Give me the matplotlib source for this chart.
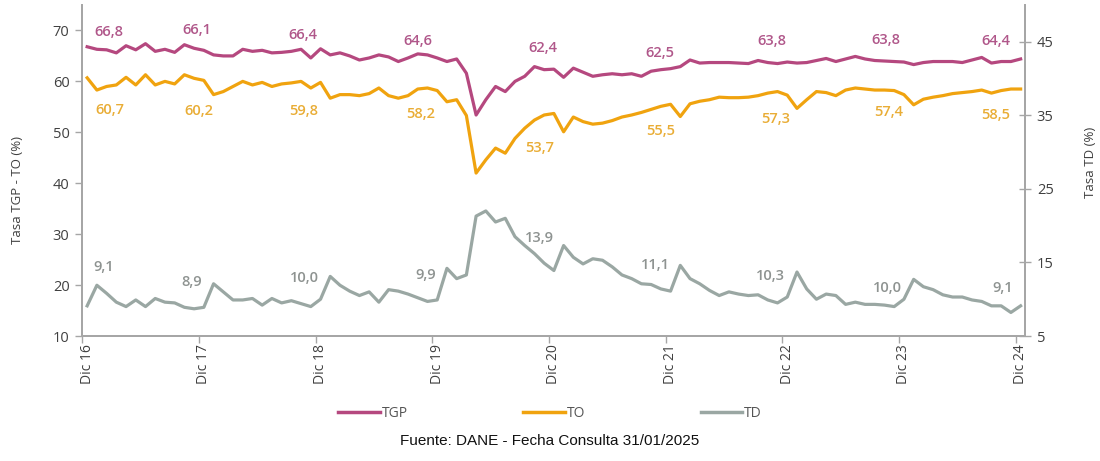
import matplotlib
matplotlib.use('Agg')
import matplotlib.pyplot as plt
from matplotlib.lines import Line2D

# monthly series Dic 16 .. Dic 24 (97 months)
tgp = [66.8, 66.3, 66.2, 65.6, 67.0, 66.2, 67.4, 65.9, 66.3, 65.7, 67.2, 66.5,
       66.1, 65.2, 65.0, 65.0, 66.3, 65.9, 66.1, 65.6, 65.7, 65.9, 66.3, 64.6,
       66.4, 65.2, 65.6, 65.0, 64.2, 64.6, 65.2, 64.8, 63.9, 64.6, 65.4, 65.2,
       64.6, 63.9, 64.4, 61.6, 53.4, 56.4, 59.0, 58.0, 60.0, 61.0, 62.9, 62.3,
       62.4, 60.8, 62.6, 61.8, 61.0, 61.3, 61.5, 61.3, 61.5, 61.0, 62.0, 62.3,
       62.5, 62.9, 64.2, 63.6, 63.7, 63.7, 63.7, 63.6, 63.5, 64.1, 63.7, 63.5,
       63.8, 63.6, 63.7, 64.1, 64.5, 63.9, 64.4, 64.9, 64.4, 64.1, 64.0, 63.9,
       63.8, 63.3, 63.7, 63.9, 63.9, 63.9, 63.7, 64.2, 64.7, 63.6, 63.9, 63.9,
       64.4]
to = [60.7, 58.3, 59.0, 59.3, 60.8, 59.3, 61.3, 59.3, 60.0, 59.5, 61.3, 60.6,
      60.2, 57.4, 58.0, 59.0, 60.0, 59.3, 59.8, 59.0, 59.5, 59.7, 60.0, 58.7,
      59.8, 56.7, 57.4, 57.4, 57.2, 57.6, 58.7, 57.2, 56.7, 57.2, 58.5, 58.7,
      58.2, 56.0, 56.4, 53.3, 42.0, 44.6, 46.9, 45.9, 48.8, 50.8, 52.4, 53.4,
      53.7, 50.1, 53.0, 52.1, 51.6, 51.8, 52.3, 53.0, 53.4, 53.9, 54.5, 55.1,
      55.5, 53.1, 55.6, 56.1, 56.4, 56.9, 56.8, 56.8, 56.9, 57.2, 57.7, 58.0,
      57.3, 54.7, 56.4, 58.0, 57.8, 57.2, 58.3, 58.7, 58.5, 58.3, 58.3, 58.2,
      57.4, 55.4, 56.5, 56.9, 57.2, 57.6, 57.8, 58.0, 58.3, 57.7, 58.2, 58.5,
      58.5]
td = [9.1, 11.9, 10.8, 9.6, 9.0, 9.9, 9.0, 10.1, 9.6, 9.5, 8.9, 8.7,
      8.9, 12.1, 11.0, 9.9, 9.9, 10.1, 9.2, 10.1, 9.5, 9.8, 9.4, 9.0,
      10.0, 13.1, 11.9, 11.1, 10.5, 11.0, 9.6, 11.3, 11.1, 10.7, 10.2, 9.7,
      9.9, 14.2, 12.8, 13.3, 21.3, 22.0, 20.5, 21.0, 18.5, 17.3, 16.2, 14.9,
      13.9, 17.3, 15.7, 14.8, 15.5, 15.3, 14.4, 13.3, 12.8, 12.1, 12.0, 11.4,
      11.1, 14.6, 12.8, 12.1, 11.2, 10.5, 11.0, 10.7, 10.5, 10.6, 9.9, 9.5,
      10.3, 13.7, 11.4, 10.0, 10.7, 10.5, 9.3, 9.6, 9.3, 9.3, 9.2, 9.0,
      10.0, 12.7, 11.7, 11.3, 10.6, 10.3, 10.3, 9.9, 9.7, 9.1, 9.1, 8.2,
      9.1]
year_labels = ['Dic 16', 'Dic 17', 'Dic 18', 'Dic 19', 'Dic 20',
               'Dic 21', 'Dic 22', 'Dic 23', 'Dic 24']

# label offsets in pixels (dx, dy) from the december point
tgp_off = [(22, 15), (-7, 20), (-18, 14), (-19, 17), (-11, 21), (-11, 16), (-15, 21), (-18, 22), (-25, 18)]
to_off = [(23, -32), (-5, -31), (-17, -29), (-17, -23), (-14, -35), (-10, -27), (-12, -24), (-15, -17), (-25, -26)]
td_off = [(17, 39), (-12, 25), (-16, 21), (-12, 25), (-14, 33), (-15, 26), (-17, 21), (-17, 11), (-18, 18)]

c_tgp = '#b5487f'
c_to = '#f0a30f'
c_td = '#9aa7a3'
c_axis = '#a6a6a6'
c_txt = '#404040'

plt.rcParams['font.family'] = ['Open Sans', 'DejaVu Sans']

fig = plt.figure(figsize=(11, 4.61), dpi=100)
ax = fig.add_axes([82 / 1100, 1 - 336 / 461, 943 / 1100, 331 / 461])
ax2 = ax.twinx()

x = list(range(len(tgp)))
ax.plot(x, tgp, color=c_tgp, lw=2.3, solid_joinstyle='round')
ax.plot(x, to, color=c_to, lw=2.3, solid_joinstyle='round')
ax2.plot(x, td, color=c_td, lw=2.3, solid_joinstyle='round')

ax.set_xlim(-0.53, 96.45)
ax.set_ylim(10, 75)
ax2.set_ylim(5, 50)
ax.set_yticks([10, 20, 30, 40, 50, 60, 70])
ax2.set_yticks([5, 15, 25, 35, 45])

dec_idx = list(range(0, 97, 12))
ax.set_xticks([i - 0.5 for i in dec_idx])
ax.set_xticklabels([])
ax.set_xticks(dec_idx, minor=True)
ax.set_xticklabels(year_labels, minor=True, rotation=90, fontsize=10, color=c_txt)
ax.tick_params(axis='x', which='minor', length=0, pad=6)
ax.tick_params(axis='x', which='major', length=5, width=1, color=c_axis, direction='out')
ax.tick_params(axis='y', length=5, width=1, color=c_axis, labelsize=10.5, labelcolor=c_txt, pad=4)
ax2.tick_params(axis='y', length=9, width=1, color=c_axis, labelsize=10.5, labelcolor=c_txt,
                direction='inout', pad=4)

for a in (ax, ax2):
    a.spines['top'].set_visible(False)
    for s in ('left', 'right', 'bottom'):
        a.spines[s].set_color(c_axis)
        a.spines[s].set_linewidth(1.3)

ax.set_ylabel('Tasa TGP - TO (%)', fontsize=9.5, color=c_txt)
ax.yaxis.set_label_coords(-0.061, 0.44)
ax2.set_ylabel('Tasa TD (%)', fontsize=9.5, color=c_txt)
ax2.yaxis.set_label_coords(1.063, 0.526)

def fmt(v):
    return f'{v:.1f}'.replace('.', ',')

for k, i in enumerate(dec_idx):
    ax.annotate(fmt(tgp[i]), (i, tgp[i]), xytext=tgp_off[k], textcoords='offset pixels',
                ha='center', va='center', fontsize=10.5, fontweight='semibold', color='#b0578a')
    ax.annotate(fmt(to[i]), (i, to[i]), xytext=to_off[k], textcoords='offset pixels',
                ha='center', va='center', fontsize=10.5, fontweight='semibold', color='#e9ad36')
    ax2.annotate(fmt(td[i]), (i, td[i]), xytext=td_off[k], textcoords='offset pixels',
                 ha='center', va='center', fontsize=10.5, fontweight='semibold', color='#8e9391')

handles = [Line2D([], [], color=c_tgp, lw=2.5),
           Line2D([], [], color=c_to, lw=2.5),
           Line2D([], [], color=c_td, lw=2.5)]
fig.legend(handles, ['TGP', 'TO', 'TD'], loc='center', bbox_to_anchor=(550 / 1100, 1 - 413 / 461),
           ncol=3, frameon=False, handlelength=3.0, handletextpad=0.15, columnspacing=8.3,
           fontsize=10, labelcolor='#555555')

fig.text(550 / 1100, 1 - 441 / 461, 'Fuente: DANE - Fecha Consulta 31/01/2025',
         ha='center', va='center', fontsize=11, family='Liberation Sans', color='#111111')

fig.savefig('out.png', dpi=100)
